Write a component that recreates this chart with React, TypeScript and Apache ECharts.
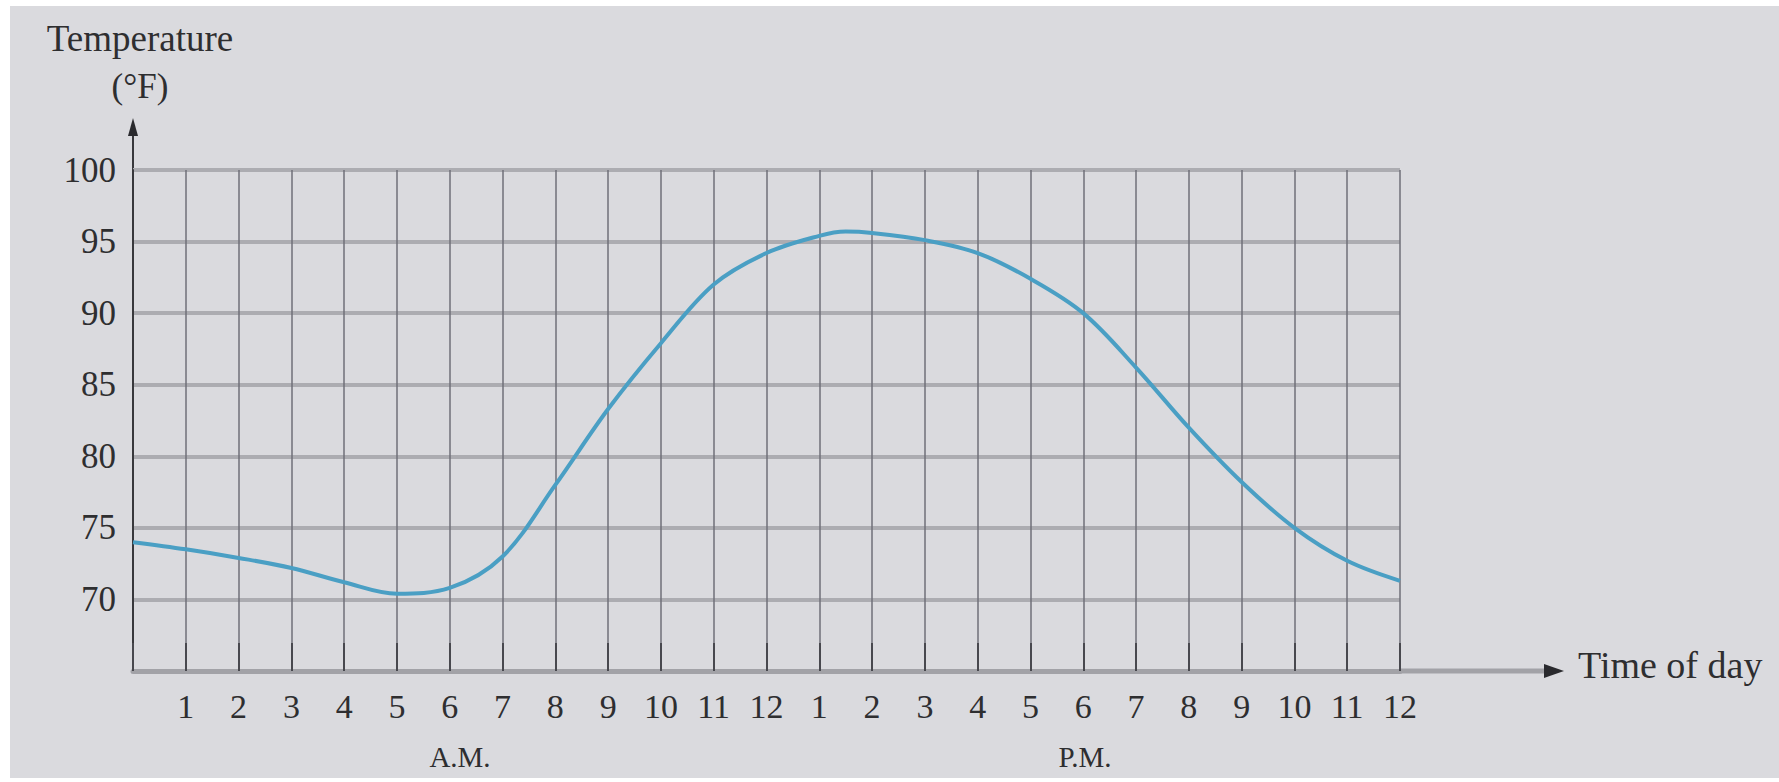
import React, { useEffect, useRef } from "react";
import * as echarts from "echarts";

const hours = [0, 1, 2, 3, 4, 5, 6, 7, 8, 9, 10, 11, 12, 13, 13.5, 14, 15, 16, 17, 18, 19, 20, 21, 22, 23, 24];
const temps = [74.0, 73.5, 72.9, 72.2, 71.2, 70.4, 70.8, 73.0, 78.0, 83.3, 87.9, 92.0, 94.2, 95.4, 95.7, 95.6, 95.1, 94.2, 92.4, 90.0, 86.2, 82.0, 78.2, 75.0, 72.7, 71.3];
const hourLabels = ["1", "2", "3", "4", "5", "6", "7", "8", "9", "10", "11", "12", "1", "2", "3", "4", "5", "6", "7", "8", "9", "10", "11", "12"];
const tempTicks = [70, 75, 80, 85, 90, 95, 100];

const FONT = "'Liberation Serif', 'DejaVu Serif', serif";
const TEXT = "#2e2e30";

export default function App() {
  const ref = useRef<HTMLDivElement>(null);
  useEffect(() => {
    if (!ref.current) return;
    const chart = echarts.init(ref.current, null, { renderer: "svg" });
    const gl = 123, gt = 164, gr = 379, gb = 107;
    const W = 1769, H = 772;
    const axisX = gl;
    const axisY = H - gb;
    const rightX = W - gr;
    chart.setOption({
      animation: false,
      backgroundColor: "#dadade",
      grid: { left: gl, top: gt, right: gr, bottom: gb, containLabel: false },
      xAxis: {
        type: "value",
        min: 0,
        max: 24,
        interval: 1,
        axisLine: { show: true, lineStyle: { color: "#a2a2a7", width: 5 } },
        axisTick: { show: true, inside: true, length: 28, lineStyle: { color: "#48484e", width: 2 } },
        axisLabel: {
          margin: 18,
          fontFamily: FONT,
          fontSize: 34,
          color: TEXT,
          formatter: (v: number) => (v >= 1 && v <= 24 ? hourLabels[v - 1] : ""),
        },
        splitLine: { show: true, lineStyle: { color: "#6f6f78", width: 1.5 } },
      },
      yAxis: {
        type: "value",
        min: 65,
        max: 100,
        interval: 5,
        axisLine: { show: true, lineStyle: { color: "#38383c", width: 2 } },
        axisTick: { show: false },
        axisLabel: {
          margin: 17,
          fontFamily: FONT,
          fontSize: 35,
          color: TEXT,
          formatter: (v: number) => (tempTicks.indexOf(v) >= 0 ? String(v) : ""),
        },
        splitLine: { show: true, lineStyle: { color: "#acacb1", width: 4 } },
      },
      graphic: [
        { type: "line", shape: { x1: axisX, y1: gt, x2: axisX, y2: 126 }, style: { stroke: "#38383c", lineWidth: 2 } },
        { type: "polygon", shape: { points: [[axisX, 112], [axisX - 5, 130], [axisX + 5, 130]] }, style: { fill: "#2a2a2e" } },
        { type: "line", shape: { x1: rightX, y1: axisY, x2: 1538, y2: axisY }, style: { stroke: "#a2a2a7", lineWidth: 5 } },
        { type: "polygon", shape: { points: [[1554, axisY], [1534, axisY - 7], [1534, axisY + 7]] }, style: { fill: "#2a2a2e" } },
        { type: "text", x: 130, y: 32, style: { text: "Temperature", font: `37px ${FONT}`, fill: TEXT, align: "center", verticalAlign: "middle" } },
        { type: "text", x: 130, y: 80, style: { text: "(°F)", font: `35px ${FONT}`, fill: TEXT, align: "center", verticalAlign: "middle" } },
        { type: "text", x: 1568, y: 659, style: { text: "Time of day", font: `38px ${FONT}`, fill: TEXT, align: "left", verticalAlign: "middle" } },
        { type: "text", x: 450, y: 751, style: { text: "A.M.", font: `29px ${FONT}`, fill: TEXT, align: "center", verticalAlign: "middle" } },
        { type: "text", x: 1075, y: 751, style: { text: "P.M.", font: `29px ${FONT}`, fill: TEXT, align: "center", verticalAlign: "middle" } },
      ],
      series: [
        {
          type: "line",
          data: hours.map((h, i) => [h, temps[i]]),
          smooth: 0.35,
          showSymbol: false,
          lineStyle: { color: "#4a9fc4", width: 4 },
          z: 5,
        },
      ],
    });
    return () => chart.dispose();
  }, []);
  return (
    <div style={{ position: "fixed", left: 0, top: 0, width: 1779, height: 782, background: "#ffffff", overflow: "hidden" }}>
      <div ref={ref} style={{ position: "absolute", left: 10, top: 6, width: 1769, height: 772 }} />
    </div>
  );
}
